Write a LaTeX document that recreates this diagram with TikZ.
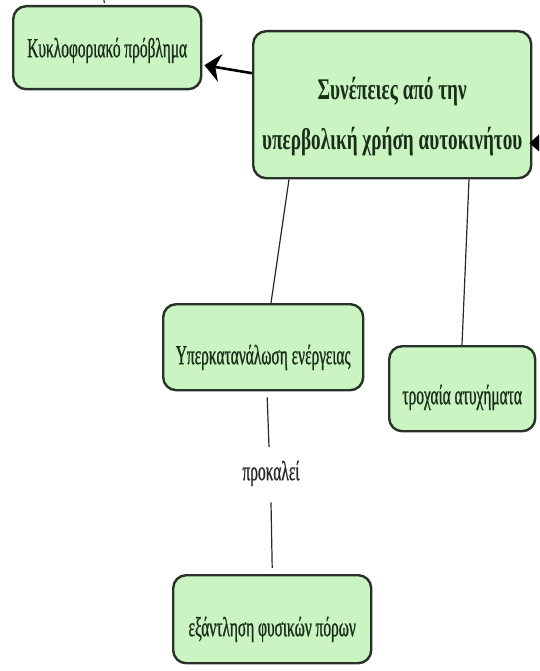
\documentclass[tikz,border=0pt]{standalone}
\usepackage{fontspec}
\setmainfont{Liberation Serif}[FakeStretch=0.56,FakeBold=0.8]
\newfontfamily\headfont{Liberation Serif}[FakeStretch=0.64]
\usetikzlibrary{arrows.meta}
\definecolor{boxfill}{RGB}{202,244,194}
\definecolor{boxline}{RGB}{40,50,40}
\definecolor{txt}{RGB}{25,45,25}
\definecolor{conn}{RGB}{40,40,40}
\tikzset{
  cbox/.style={draw=boxline, fill=boxfill, line width=2.4pt, rounded corners=13pt,
    align=center, inner sep=0pt, anchor=north west, text=txt,
    font=\fontsize{27.5}{30}\selectfont},
  mainbox/.style={cbox, font=\headfont\bfseries\fontsize{30}{50}\selectfont},
  conline/.style={draw=conn, line width=1.2pt},
  arrline/.style={draw=black, line width=2.6pt, -{Stealth[length=16pt,width=28pt,inset=5pt]}},
  lbl/.style={inner sep=0pt, anchor=north, text=conn, font=\fontsize{27.5}{30}\selectfont}
}
\begin{document}
\begin{tikzpicture}[x=1pt,y=-1pt]
\useasboundingbox (0,0) rectangle (539,671);
\clip (0,0) rectangle (539,671);
\node[cbox, minimum width=188pt, text height=51pt, text depth=32pt] (kyklo) at (12,5) {Κυκλοφοριακό πρόβλημα};
\node[mainbox, minimum width=278pt, text height=118pt, text depth=29pt] (main) at (252,30) {Συνέπειες από την\\υπερβολική χρήση αυτοκινήτου};
\node[cbox, minimum width=200pt, text height=60pt, text depth=26pt] (yperk) at (162,303) {Υπερκατανάλωση ενέργειας};
\node[cbox, minimum width=146pt, text height=58pt, text depth=27pt] (troxaia) at (388,345) {τροχαία ατυχήματα};
\node[cbox, minimum width=198pt, text height=61pt, text depth=27pt] (exant) at (172,574) {εξάντληση φυσικών πόρων};
\node[lbl, text height=33pt, text depth=22pt] (prok) at (271,447) {προκαλεί};
\coordinate (offright) at (600,142);
\coordinate (offtop) at (103,-20);
\draw[arrline] ([yshift=31.5pt]main.west) -- ([xshift=2pt,yshift=-17.5pt]kyklo.east);
\draw[arrline] (offright) -- ([xshift=-3pt,yshift=-38.5pt]main.east);
\draw[conline] (offtop) -- ([xshift=-3pt,yshift=2pt]kyklo.north);
\draw[conline] ([xshift=37pt]main.south west) -- ([xshift=109pt]yperk.north west);
\draw[conline] ([xshift=217pt]main.south west) -- ([xshift=74pt]troxaia.north west);
\draw[conline] ([xshift=4pt,yshift=-6pt]yperk.south) -- ([xshift=-2pt]prok.north);
\draw[conline] (prok.south) -- ([yshift=6pt]exant.north);
\end{tikzpicture}
\end{document}
